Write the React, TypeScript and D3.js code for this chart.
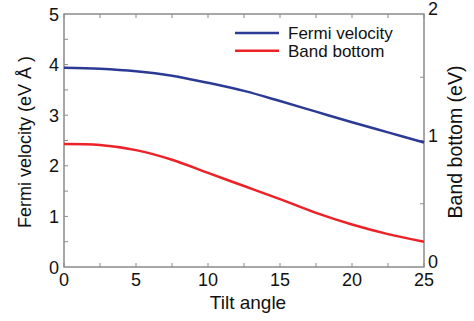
import React from "react";
import * as d3 from "d3";

const tiltAngles = [0, 2.5, 5, 7.5, 10, 12.5, 15, 17.5, 20, 22.5, 25];
const fermiVelocity = [3.94, 3.92, 3.87, 3.78, 3.64, 3.48, 3.28, 3.07, 2.86, 2.66, 2.46];
const bandBottomLeftUnits = [2.43, 2.41, 2.31, 2.12, 1.86, 1.6, 1.34, 1.07, 0.84, 0.65, 0.5];
const xTicks = [0, 5, 10, 15, 20, 25];
const xMinor = [0, 2.5, 5, 7.5, 10, 12.5, 15, 17.5, 20, 22.5, 25];
const yLeftTicks = [0, 1, 2, 3, 4, 5];
const yLeftMinor = [0.5, 1, 1.5, 2, 2.5, 3, 3.5, 4, 4.5];
const yRightTicks = [0, 1, 2];
const yRightMinor = [0.5, 1, 1.5];
const seriesNames = ["Fermi velocity", "Band bottom"];
const seriesColors = ["#2b3a94", "#ec2227"];

export default function App() {
  const W = 474, H = 321;
  const L = 64, R = 424, T = 14, B = 267;
  const x = d3.scaleLinear().domain([0, 25]).range([L, R]);
  const yL = d3.scaleLinear().domain([0, 5]).range([B, T]);
  const yR = d3.scaleLinear().domain([0, 2]).range([B, T]);
  const line = d3
    .line<number>()
    .x((_, i) => x(tiltAngles[i]))
    .curve(d3.curveCatmullRom.alpha(0.5));
  const blue = line.y((d) => yL(d))(fermiVelocity) as string;
  const red = line.y((d) => yL(d))(bandBottomLeftUnits) as string;
  const axisColor = "#8a8a8a";
  const font = "'Liberation Sans', Arial, sans-serif";
  const tk = 4;
  return (
    <svg
      width={W}
      height={H}
      style={{ position: "absolute", left: 0, top: 0, background: "#fff" }}
      fontFamily={font}
    >
      <g stroke={axisColor} strokeWidth={1}>
        {xMinor.map((v, i) => (
          <g key={"x" + i}>
            <line x1={x(v)} x2={x(v)} y1={B} y2={B - tk} />
            <line x1={x(v)} x2={x(v)} y1={T} y2={T + tk} />
          </g>
        ))}
        {yLeftMinor.map((v, i) => (
          <line key={"yl" + i} x1={L} x2={L + tk} y1={yL(v)} y2={yL(v)} />
        ))}
        {yRightMinor.map((v, i) => (
          <line key={"yr" + i} x1={R} x2={R - tk} y1={yR(v)} y2={yR(v)} />
        ))}
      </g>
      <rect x={L} y={T} width={R - L} height={B - T} fill="none" stroke={axisColor} strokeWidth={1.5} />
      <path d={blue} fill="none" stroke={seriesColors[0]} strokeWidth={2.5} />
      <path d={red} fill="none" stroke={seriesColors[1]} strokeWidth={2.5} />
      <g fontSize={18} fill="#111">
        {xTicks.map((v) => (
          <text key={"xt" + v} x={x(v)} y={B + 19} textAnchor="middle">
            {v}
          </text>
        ))}
        {yLeftTicks.map((v) => (
          <text key={"ylt" + v} x={L - 5} y={yL(v) + 6.5} textAnchor="end">
            {v}
          </text>
        ))}
        {yRightTicks.map((v) => (
          <text key={"yrt" + v} x={R + 4} y={yR(v) + 1} textAnchor="start">
            {v}
          </text>
        ))}
      </g>
      <text x={248} y={309} textAnchor="middle" fontSize={19} fill="#111">
        Tilt angle
      </text>
      <text
        transform={`translate(31,${142}) rotate(-90)`}
        textAnchor="middle"
        fontSize={18}
        fill="#111"
      >
        Fermi velocity (eV Å )
      </text>
      <text
        transform={`translate(462,${142}) rotate(-90)`}
        textAnchor="middle"
        fontSize={19.5}
        fill="#111"
      >
        Band bottom (eV)
      </text>
      <g fontSize={17} fill="#111">
        {seriesNames.map((n, i) => (
          <g key={n}>
            <line x1={235} x2={279} y1={33 + i * 17.7} y2={33 + i * 17.7} stroke={seriesColors[i]} strokeWidth={2.5} />
            <text x={288} y={33 + i * 17.7 + 6}>
              {n}
            </text>
          </g>
        ))}
      </g>
    </svg>
  );
}
